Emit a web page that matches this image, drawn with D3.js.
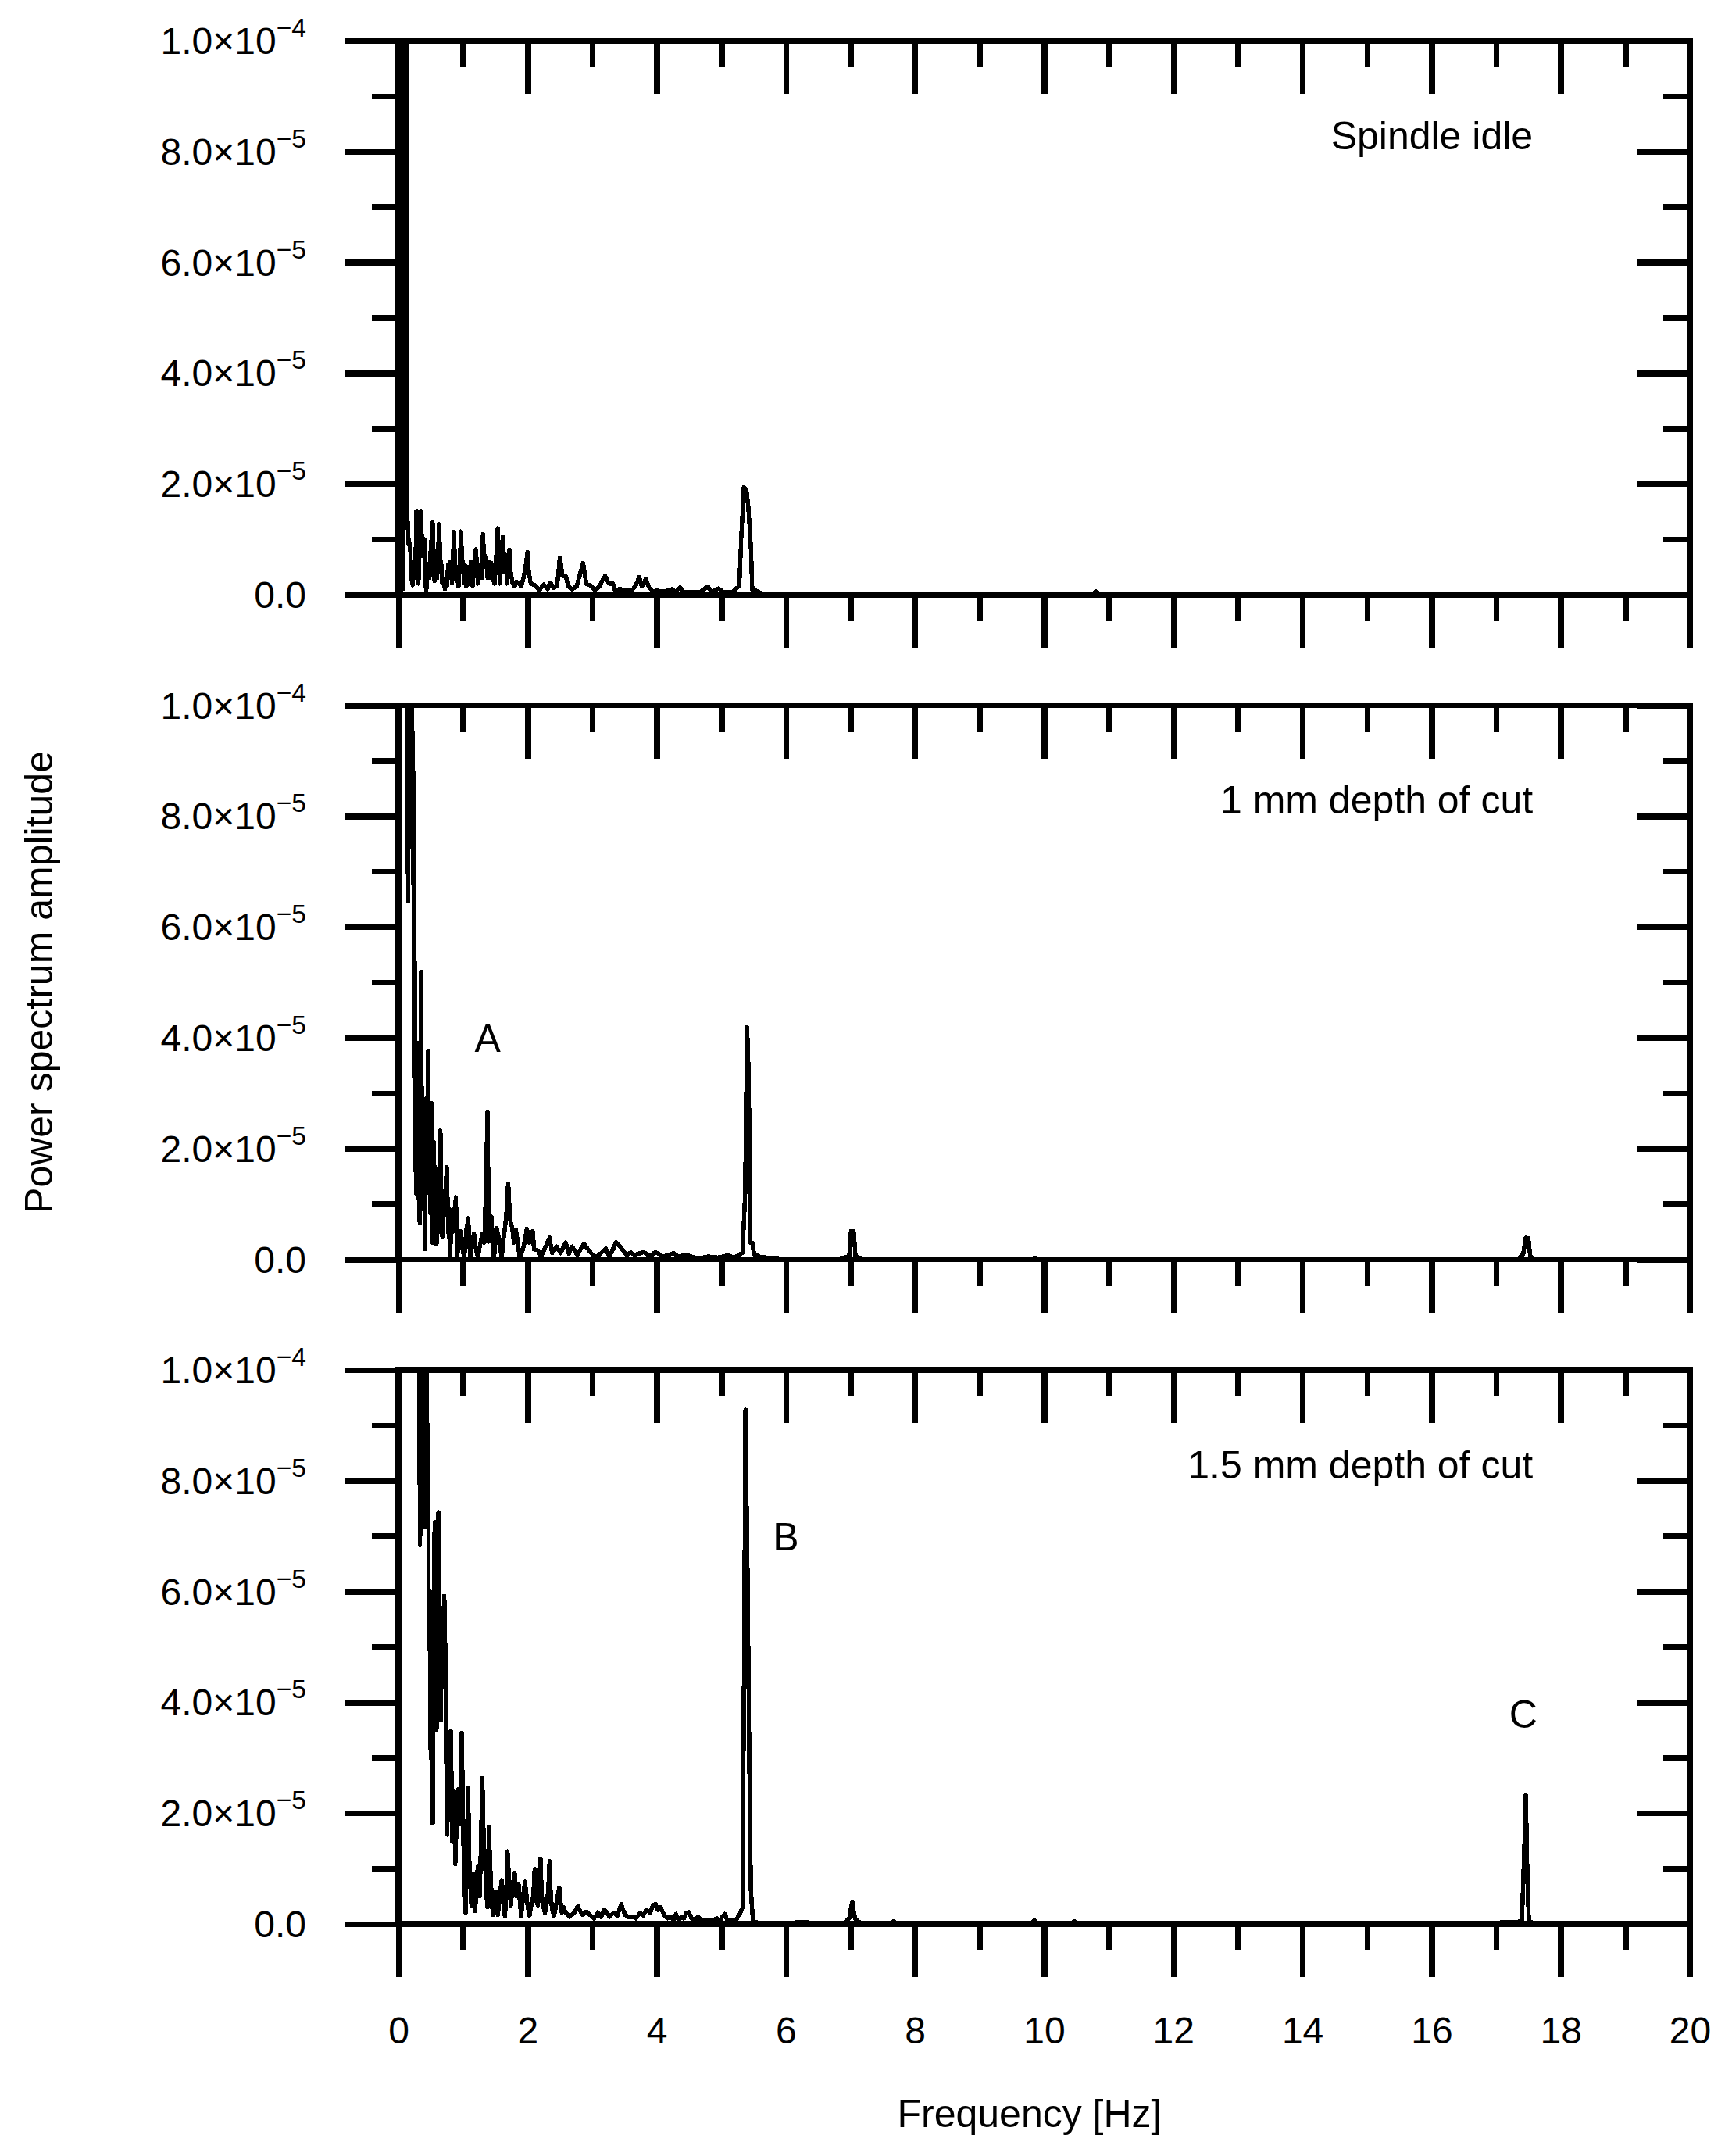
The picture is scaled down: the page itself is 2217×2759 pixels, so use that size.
<!DOCTYPE html>
<html><head><meta charset="utf-8">
<script src="https://cdn.jsdelivr.net/npm/d3@7"></script>
<style>
body{margin:0;background:#fff}
svg text{font-family:"Liberation Sans",Arial,Helvetica,sans-serif;fill:#000}
</style>
</head><body>
<svg id="chart" width="2217" height="2759"></svg>
<script>
// ---------------- data (frequency in Hz, amplitude in units of 1e-5) ----------------
const UNIT = 1e-5;
const panelNames = ["Spindle idle", "1 mm depth of cut", "1.5 mm depth of cut"];

const idleSpectrum = [
 [0.00,0.05],[0.03,0.05],[0.05,1.2],[0.065,0.1],[0.085,15],[0.115,15],[0.14,1.38],[0.16,0.9],[0.18,0.93],
 [0.20,0.3],[0.22,0.17],[0.24,0.6],[0.26,0.3],[0.28,1.51],[0.30,0.6],[0.31,0.2],[0.33,1.0],[0.35,1.51],
 [0.37,0.7],[0.38,0.95],[0.40,1.0],[0.42,0.3],[0.43,0.05],[0.45,0.4],[0.46,0.55],[0.48,0.3],[0.50,0.8],
 [0.53,1.30],[0.55,0.5],[0.56,0.25],[0.58,0.6],[0.60,0.3],[0.63,1.27],[0.65,0.5],[0.66,0.6],[0.68,0.2],
 [0.70,0.25],[0.72,0.1],[0.73,0.25],[0.75,0.15],[0.77,0.53],[0.79,0.3],[0.81,0.6],[0.83,0.2],[0.86,1.13],
 [0.88,0.4],[0.90,0.25],[0.91,0.5],[0.93,0.15],[0.95,0.6],[0.97,1.14],[0.99,0.4],[1.00,0.6],[1.02,0.2],
 [1.03,0.53],[1.05,0.15],[1.07,0.4],[1.09,0.5],[1.10,0.2],[1.12,0.6],[1.14,0.3],[1.15,0.15],[1.17,0.5],
 [1.20,0.82],[1.22,0.4],[1.23,0.2],[1.25,0.4],[1.27,0.55],[1.29,0.3],[1.31,1.09],[1.33,0.5],[1.34,0.7],
 [1.36,0.67],[1.38,0.3],[1.40,0.6],[1.42,0.3],[1.44,0.57],[1.46,0.3],[1.49,0.2],[1.51,0.6],[1.54,1.2],
 [1.56,0.5],[1.57,0.2],[1.59,0.5],[1.62,1.05],[1.64,0.4],[1.66,0.72],[1.68,0.2],[1.70,0.5],[1.72,0.81],
 [1.74,0.4],[1.77,0.2],[1.80,0.15],[1.83,0.23],[1.87,0.2],[1.90,0.15],[1.93,0.27],[1.97,0.5],[2.00,0.77],
 [2.02,0.4],[2.05,0.2],[2.11,0.17],[2.18,0.08],[2.25,0.18],[2.31,0.1],[2.35,0.22],[2.41,0.12],[2.46,0.17],
 [2.50,0.67],[2.54,0.34],[2.59,0.34],[2.63,0.15],[2.69,0.1],[2.76,0.15],[2.86,0.57],[2.91,0.19],[2.97,0.17],
 [3.04,0.08],[3.10,0.13],[3.20,0.34],[3.26,0.2],[3.32,0.2],[3.36,0.06],[3.43,0.11],[3.49,0.06],[3.55,0.09],
 [3.60,0.06],[3.67,0.15],[3.73,0.32],[3.77,0.15],[3.83,0.28],[3.88,0.13],[3.95,0.05],[4.01,0.08],[4.08,0.05],
 [4.16,0.07],[4.24,0.1],[4.29,0.05],[4.36,0.13],[4.42,0.04],[4.51,0.04],[4.59,0.04],[4.68,0.05],[4.79,0.15],
 [4.85,0.05],[4.96,0.11],[5.03,0.04],[5.18,0.05],[5.28,0.16],[5.31,1.05],[5.35,1.94],[5.39,1.89],[5.42,1.56],
 [5.46,0.83],[5.48,0.09],[5.52,0.08],[5.63,0.02],[6.5,0.01],[8.0,0.01],[10.75,0.01],[10.8,0.06],[10.85,0.01],
 [14,0.0],[17,0.0],[20,0.0]
];

const cut1Spectrum = [
 [0.10,16],[0.125,14],[0.15,6.46],[0.175,14],[0.20,12],[0.215,7.44],[0.225,9.5],[0.235,6.05],[0.245,7.2],
 [0.255,4.29],[0.26,2.0],[0.265,3.71],[0.27,1.19],[0.275,2.82],[0.28,1.8],[0.285,3.3],[0.29,1.5],[0.295,2.5],
 [0.30,3.9],[0.305,2.0],[0.31,1.1],[0.315,2.6],[0.32,3.2],[0.325,1.5],[0.33,0.65],[0.34,3.0],[0.35,5.19],
 [0.355,3.0],[0.36,1.6],[0.37,3.1],[0.375,1.8],[0.38,0.9],[0.39,2.7],[0.40,1.5],[0.41,0.18],[0.42,1.8],
 [0.43,2.9],[0.44,1.2],[0.45,2.5],[0.46,3.76],[0.47,2.2],[0.475,1.5],[0.48,2.2],[0.49,0.84],[0.50,2.0],
 [0.51,2.82],[0.52,1.4],[0.53,0.3],[0.54,1.5],[0.55,2.11],[0.56,1.0],[0.57,0.6],[0.58,1.2],[0.59,0.27],
 [0.61,0.9],[0.62,1.1],[0.635,0.5],[0.65,2.32],[0.665,1.0],[0.68,0.41],[0.70,1.0],[0.71,0.8],[0.73,1.3],
 [0.75,1.66],[0.765,0.8],[0.78,0.4],[0.79,0.9],[0.80,0.01],[0.82,0.7],[0.85,0.5],[0.87,0.9],[0.89,1.12],
 [0.90,0.4],[0.91,0.04],[0.94,0.4],[0.97,0.51],[0.99,0.2],[1.02,0.01],[1.05,0.5],[1.08,0.74],[1.10,0.3],
 [1.11,0.04],[1.14,0.3],[1.17,0.46],[1.20,0.2],[1.23,0.04],[1.27,0.3],[1.30,0.46],[1.33,0.3],[1.36,1.5],
 [1.38,2.65],[1.40,0.32],[1.42,0.5],[1.44,0.77],[1.46,0.3],[1.48,0.01],[1.50,0.3],[1.52,0.56],[1.56,0.37],
 [1.58,0.2],[1.60,0.01],[1.62,0.3],[1.64,0.46],[1.67,0.8],[1.70,1.37],[1.73,0.7],[1.76,0.58],[1.79,0.3],
 [1.82,0.53],[1.85,0.3],[1.88,0.01],[1.94,0.23],[1.99,0.55],[2.03,0.3],[2.08,0.51],[2.10,0.18],[2.16,0.16],
 [2.21,0.05],[2.26,0.18],[2.34,0.39],[2.38,0.11],[2.45,0.23],[2.51,0.11],[2.59,0.30],[2.64,0.1],[2.69,0.23],
 [2.77,0.08],[2.87,0.28],[2.97,0.13],[3.03,0.05],[3.09,0.06],[3.21,0.19],[3.27,0.05],[3.37,0.31],[3.45,0.2],
 [3.53,0.08],[3.60,0.12],[3.66,0.08],[3.80,0.13],[3.90,0.06],[3.98,0.13],[4.10,0.05],[4.26,0.11],[4.34,0.05],
 [4.46,0.08],[4.58,0.03],[4.67,0.02],[4.80,0.05],[4.95,0.03],[5.10,0.07],[5.20,0.03],[5.33,0.12],[5.37,1.2],
 [5.385,2.8],[5.40,4.19],[5.425,3.3],[5.44,1.45],[5.45,0.3],[5.48,0.3],[5.51,0.09],[5.6,0.04],[5.8,0.02],
 [6.2,0.01],[6.8,0.01],[6.98,0.05],[7.01,0.51],[7.05,0.5],[7.08,0.05],[7.2,0.01],[9.82,0.01],[9.86,0.03],
 [9.90,0.01],[12,0.0],[17.35,0.01],[17.42,0.1],[17.46,0.39],[17.50,0.38],[17.53,0.05],[17.6,0.0],[20,0.0]
];

const cut15Spectrum = [
 [0.25,16],[0.31,12],[0.335,6.84],[0.36,11.5],[0.38,9.0],[0.40,12],[0.41,7.17],[0.43,11],[0.45,7.9],[0.46,9.0],
 [0.47,4.96],[0.485,6.0],[0.50,3.0],[0.515,4.5],[0.53,1.81],[0.545,4.0],[0.555,7.0],[0.57,7.26],[0.58,5.0],
 [0.59,3.5],[0.605,6.0],[0.62,7.43],[0.64,5.0],[0.655,3.68],[0.67,4.8],[0.69,5.2],[0.71,5.92],[0.73,4.6],
 [0.74,3.0],[0.755,1.61],[0.78,3.0],[0.795,2.0],[0.81,3.48],[0.825,2.4],[0.835,1.48],[0.86,2.4],[0.88,1.08],
 [0.90,1.8],[0.93,2.43],[0.95,1.8],[0.98,3.45],[1.00,2.0],[1.01,1.2],[1.04,0.2],[1.06,1.5],[1.08,2.45],
 [1.10,1.0],[1.13,0.33],[1.16,0.9],[1.19,0.23],[1.21,0.7],[1.23,1.05],[1.26,0.5],[1.30,2.63],[1.32,1.5],
 [1.34,1.12],[1.36,0.6],[1.38,0.3],[1.40,1.74],[1.43,0.8],[1.46,0.16],[1.48,0.4],[1.50,0.59],[1.52,0.3],
 [1.54,0.16],[1.57,0.5],[1.60,0.79],[1.62,0.4],[1.65,0.13],[1.67,0.6],[1.69,1.31],[1.72,0.6],[1.74,0.33],
 [1.77,0.7],[1.80,0.92],[1.83,0.5],[1.86,0.72],[1.90,0.13],[1.93,0.5],[1.96,0.76],[2.00,0.33],[2.03,0.15],
 [2.06,0.36],[2.09,0.5],[2.11,0.99],[2.14,0.4],[2.16,0.33],[2.18,0.7],[2.20,1.18],[2.22,0.5],[2.24,0.33],
 [2.27,0.2],[2.29,0.3],[2.32,0.6],[2.34,1.13],[2.36,0.5],[2.38,0.26],[2.41,0.15],[2.44,0.33],[2.49,0.66],
 [2.53,0.2],[2.56,0.3],[2.59,0.2],[2.65,0.13],[2.72,0.2],[2.78,0.32],[2.85,0.16],[2.91,0.22],[2.97,0.16],
 [3.03,0.1],[3.09,0.21],[3.14,0.12],[3.19,0.26],[3.27,0.13],[3.33,0.2],[3.39,0.15],[3.45,0.36],[3.51,0.16],
 [3.57,0.12],[3.62,0.13],[3.68,0.1],[3.74,0.2],[3.79,0.15],[3.84,0.26],[3.90,0.2],[3.94,0.33],[3.98,0.36],
 [4.02,0.25],[4.06,0.3],[4.12,0.16],[4.17,0.1],[4.22,0.13],[4.26,0.08],[4.30,0.18],[4.34,0.06],[4.38,0.13],
 [4.42,0.1],[4.46,0.2],[4.50,0.21],[4.54,0.1],[4.60,0.08],[4.64,0.13],[4.70,0.06],[4.78,0.08],[4.85,0.05],
 [4.93,0.1],[4.98,0.06],[5.05,0.18],[5.10,0.06],[5.15,0.08],[5.22,0.05],[5.29,0.19],[5.33,0.3],[5.355,5.0],
 [5.375,9.28],[5.41,6.0],[5.44,2.17],[5.46,0.59],[5.49,0.05],[5.60,0.01],[5.8,0.02],[6.0,0.01],[6.2,0.03],
 [6.5,0.02],[6.9,0.01],[6.98,0.1],[7.03,0.4],[7.07,0.1],[7.15,0.02],[7.62,0.01],[7.67,0.05],[7.72,0.01],
 [7.99,0.02],[8.1,0.0],[9.80,0.0],[9.85,0.07],[9.90,0.0],[10.42,0.0],[10.47,0.05],[10.52,0.0],[12,0.0],
 [16,0.0],[17.30,0.03],[17.40,0.05],[17.44,1.5],[17.46,2.32],[17.49,0.5],[17.51,0.05],[17.6,0.0],[20,0.0]
];

const spectra = [idleSpectrum, cut1Spectrum, cut15Spectrum];

const xMajorTicks = [0,2,4,6,8,10,12,14,16,18,20];
const xMinorTicks = [1,3,5,7,9,11,13,15,17,19];
const xTickLabels = ["0","2","4","6","8","10","12","14","16","18","20"];
const yMajorTicks = [0,2e-5,4e-5,6e-5,8e-5,1e-4];
const yMinorTicks = [1e-5,3e-5,5e-5,7e-5,9e-5];
const yTickMantissa = ["0.0","2.0","4.0","6.0","8.0","1.0"];
const yTickExponent = ["","\u22125","\u22125","\u22125","\u22125","\u22124"];

// annotation letters: [panel index, letter, frequency, amplitude(1e-5) at baseline]
const annotations = [[1,"A",1.38,3.74],[2,"B",6.0,6.74],[2,"C",17.42,3.54]];

const xTitle = "Frequency [Hz]";
const yTitle = "Power spectrum amplitude";

// ---------------- layout ----------------
const left = 510, right = 2163;
const panelTops = [52, 902.5, 1753];
const panelH = 709;
const majorLen = 68, minorLen = 34, axisW = 7.5;
const tickFont = 48, textFont = 50, titleFont = 50;

const svg = d3.select("#chart");
const x = d3.scaleLinear().domain([0,20]).range([left,right]);

spectra.forEach((data, p) => {
  const top = panelTops[p], bottom = top + panelH;
  const y = d3.scaleLinear().domain([0,1e-4]).range([bottom, top]);
  const g = svg.append("g");

  g.append("clipPath").attr("id","clip"+p)
    .append("rect").attr("x",left).attr("y",top).attr("width",right-left).attr("height",panelH);

  const line = d3.line().x(d => x(d[0])).y(d => y(d[1]*UNIT));
  g.append("path").datum(data)
    .attr("clip-path","url(#clip"+p+")")
    .attr("d", line)
    .attr("fill","none").attr("stroke","#000")
    .attr("stroke-width",5.5).attr("stroke-linejoin","round").attr("stroke-linecap","round")
    .attr("shape-rendering","crispEdges");

  const styleAxis = sel => {
    sel.select(".domain").remove();
    sel.selectAll(".tick line").attr("stroke","#000").attr("stroke-width",axisW).attr("shape-rendering","crispEdges");
  };
  const isBottom = p === spectra.length - 1;

  // bottom axis (outward ticks)
  const bMaj = g.append("g").attr("transform",`translate(0,${bottom})`)
    .call(d3.axisBottom(x).tickValues(xMajorTicks).tickSize(majorLen).tickSizeOuter(0)
      .tickPadding(51).tickFormat((d,i) => isBottom ? xTickLabels[i] : ""));
  styleAxis(bMaj);
  bMaj.selectAll("text").attr("font-size",tickFont).attr("font-family","Liberation Sans, Arial, sans-serif").attr("fill","#000");
  styleAxis(g.append("g").attr("transform",`translate(0,${bottom})`)
    .call(d3.axisBottom(x).tickValues(xMinorTicks).tickSize(minorLen).tickSizeOuter(0).tickFormat("")));

  // top axis (inward ticks)
  styleAxis(g.append("g").attr("transform",`translate(0,${top})`)
    .call(d3.axisTop(x).tickValues(xMajorTicks).tickSize(-majorLen).tickSizeOuter(0).tickFormat("")));
  styleAxis(g.append("g").attr("transform",`translate(0,${top})`)
    .call(d3.axisTop(x).tickValues(xMinorTicks).tickSize(-minorLen).tickSizeOuter(0).tickFormat("")));

  // left axis (outward ticks)
  styleAxis(g.append("g").attr("transform",`translate(${left},0)`)
    .call(d3.axisLeft(y).tickValues(yMajorTicks).tickSize(majorLen).tickSizeOuter(0).tickFormat("")));
  styleAxis(g.append("g").attr("transform",`translate(${left},0)`)
    .call(d3.axisLeft(y).tickValues(yMinorTicks).tickSize(minorLen).tickSizeOuter(0).tickFormat("")));

  // right axis (inward ticks)
  styleAxis(g.append("g").attr("transform",`translate(${right},0)`)
    .call(d3.axisRight(y).tickValues(yMajorTicks).tickSize(-majorLen).tickSizeOuter(0).tickFormat("")));
  styleAxis(g.append("g").attr("transform",`translate(${right},0)`)
    .call(d3.axisRight(y).tickValues(yMinorTicks).tickSize(-minorLen).tickSizeOuter(0).tickFormat("")));

  // frame
  g.append("rect").attr("x",left).attr("y",top).attr("width",right-left).attr("height",panelH)
    .attr("fill","none").attr("stroke","#000").attr("stroke-width",axisW).attr("shape-rendering","crispEdges");

  // y tick labels with superscript exponents
  yMajorTicks.forEach((v,i) => {
    const t = g.append("text").attr("x",left-majorLen-50).attr("y",y(v)+17)
      .attr("text-anchor","end").attr("font-size",tickFont);
    if (yTickExponent[i]) {
      t.append("tspan").text(yTickMantissa[i] + "\u00d710");
      t.append("tspan").attr("font-size",tickFont*0.7).attr("dy",-22).text(yTickExponent[i]);
    } else {
      t.text(yTickMantissa[i]);
    }
  });

  // panel title
  g.append("text").attr("x",x(17.57)).attr("y",y(8.04*UNIT))
    .attr("text-anchor","end").attr("font-size",textFont).text(panelNames[p]);

  annotations.filter(a => a[0] === p).forEach(a => {
    g.append("text").attr("x",x(a[2])).attr("y",y(a[3]*UNIT))
      .attr("text-anchor","middle").attr("font-size",textFont).text(a[1]);
  });
});

// axis titles
svg.append("text").attr("x",1318).attr("y",2722)
  .attr("text-anchor","middle").attr("font-size",titleFont).text(xTitle);
svg.append("text").attr("transform",`translate(67,${(panelTops[0]+panelTops[2]+panelH)/2}) rotate(-90)`)
  .attr("text-anchor","middle").attr("font-size",titleFont).text(yTitle);
</script>
</body></html>
